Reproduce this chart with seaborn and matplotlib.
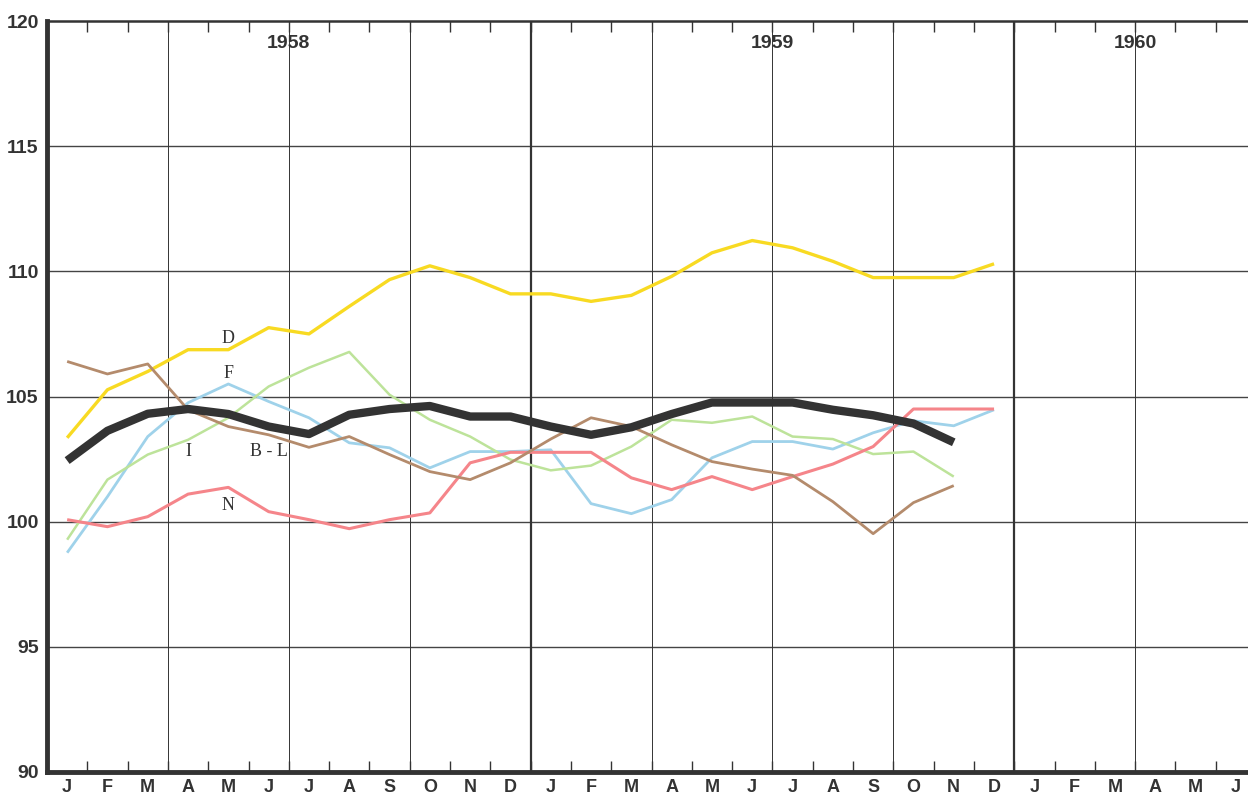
import numpy as np
import pandas as pd
import matplotlib
matplotlib.use("Agg")
import matplotlib.pyplot as plt
import seaborn as sns

sns.set_style("white")
plt.rcParams['font.family'] = ['Liberation Sans Narrow', 'Liberation Sans', 'DejaVu Sans']

# monthly index values, Jan 1958 onwards
months = list("JFMAMJJASOND") * 2 + list("JFMAMJ")
years = ["1958", "1959", "1960"]

d_vals = [103.35, 105.27, 106.0, 106.87, 106.87, 107.75, 107.5, 108.6, 109.67, 110.22, 109.75, 109.1,
          109.1, 108.8, 109.04, 109.8, 110.74, 111.23, 110.94, 110.4, 109.75, 109.75, 109.75, 110.3]
avg_vals = [102.44, 103.63, 104.31, 104.5, 104.3, 103.8, 103.5, 104.27, 104.5, 104.62, 104.2, 104.2,
            103.8, 103.47, 103.77, 104.3, 104.76, 104.76, 104.76, 104.47, 104.25, 103.92, 103.17]
i_vals = [99.28, 101.68, 102.68, 103.27, 104.15, 105.4, 106.15, 106.78, 105.07, 104.07, 103.4, 102.48,
          102.05, 102.24, 103.0, 104.07, 103.95, 104.2, 103.4, 103.3, 102.7, 102.8, 101.8]
f_vals = [98.76, 101.0, 103.4, 104.75, 105.5, 104.8, 104.15, 103.15, 102.95, 102.15, 102.8, 102.8,
          102.87, 100.72, 100.32, 100.88, 102.55, 103.2, 103.2, 102.9, 103.55, 104.03, 103.83, 104.47]
n_vals = [100.08, 99.8, 100.2, 101.1, 101.37, 100.4, 100.08, 99.72, 100.08, 100.35, 102.35, 102.77,
          102.77, 102.77, 101.75, 101.28, 101.8, 101.28, 101.8, 102.3, 103.0, 104.5, 104.5, 104.5]
bl_vals = [106.4, 105.9, 106.3, 104.47, 103.8, 103.47, 102.97, 103.4, 102.68, 102.0, 101.68, 102.35,
           103.3, 104.15, 103.8, 103.07, 102.4, 102.1, 101.85, 100.8, 99.52, 100.76, 101.44]

series = {"D": d_vals, "F": f_vals, "I": i_vals, "N": n_vals, "B-L": bl_vals, "avg": avg_vals}
colors = {"D": "#f8da22", "F": "#9fd2ea", "I": "#bde39a", "N": "#f5858a",
          "B-L": "#b48b6c", "avg": "#333333"}
widths = {"D": 2.4, "F": 2.0, "I": 1.8, "N": 2.2, "B-L": 2.0, "avg": 6.0}

rows = []
for name, vals in series.items():
    for i, v in enumerate(vals):
        rows.append({"series": name, "month": i + 0.5, "value": v})
df = pd.DataFrame(rows)

fig = plt.figure(figsize=(12.48, 7.98), dpi=100)
ax = fig.add_axes([47 / 1248, 26 / 798, 1 - 47 / 1248, 751 / 798])

for name in series:
    sub = df[df["series"] == name]
    sns.lineplot(data=sub, x="month", y="value", color=colors[name],
                 linewidth=widths[name], ax=ax, legend=False,
                 solid_joinstyle="round", solid_capstyle="butt")

ax.set_xlim(0, (1248 - 47) / 40.3)
ax.set_ylim(90, 120)

# grid
for yv in range(95, 120, 5):
    ax.axhline(yv, color="#444444", linewidth=1.0, zorder=0)
for q in range(3, 30, 3):
    ax.axvline(q, color="#333333", linewidth=1.6 if q % 12 == 0 else 0.7, zorder=0)

for side in ["left", "bottom"]:
    ax.spines[side].set_linewidth(3.5)
    ax.spines[side].set_color("#333333")
ax.spines["top"].set_linewidth(1.8)
ax.spines["top"].set_color("#333333")
ax.spines["right"].set_visible(False)

ax.set_yticks(range(90, 121, 5))
ax.set_yticklabels([str(v) for v in range(90, 121, 5)], fontsize=14, fontweight="bold", color="#333333")
ax.set_xticks(np.arange(len(months)) + 0.5)
ax.set_xticklabels(months, fontsize=13, fontweight="bold", color="#333333")
ax.tick_params(axis="both", which="major", length=0, pad=6)
ax.tick_params(axis="x", which="major", pad=5)
ax.set_xticks(np.arange(1, 30), minor=True)
ax.tick_params(axis="x", which="minor", direction="in", top=True, bottom=True,
               length=8, width=1.0, color="#333333")
ax.set_xlabel("")
ax.set_ylabel("")

for yr, xpos in zip(years, [6, 18, 27]):
    ax.text(xpos, 119.1, yr, ha="center", va="center", fontsize=14,
            fontweight="bold", color="#333333")

serif = ["Liberation Serif", "DejaVu Serif"]
labels = [("D", 4.5, 107.3), ("F", 4.5, 105.9), ("I", 3.5, 102.8), ("B - L", 5.5, 102.8), ("N", 4.5, 100.65)]
for txt, xpos, ypos in labels:
    ax.text(xpos, ypos, txt, ha="center", va="center", fontsize=13,
            family=serif, color="#333333")

fig.savefig("out.png", dpi=100)
